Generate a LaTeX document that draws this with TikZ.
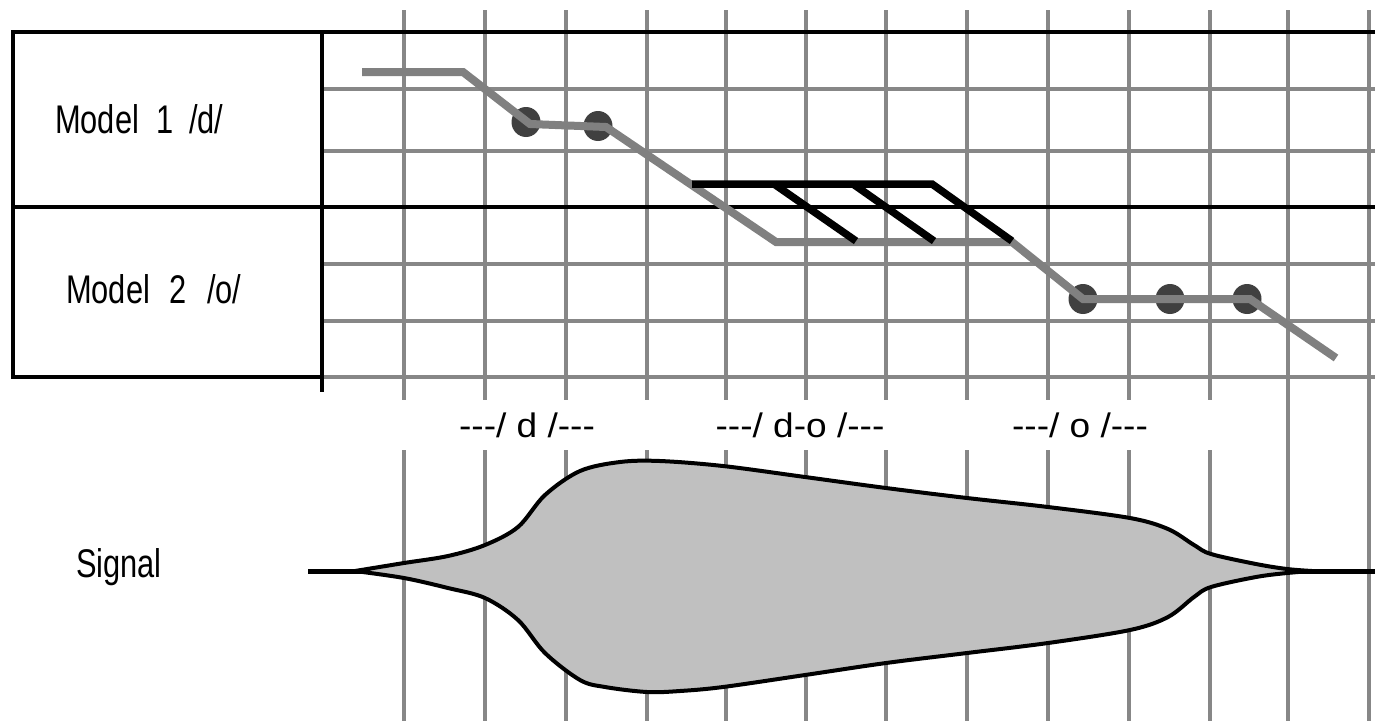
\documentclass[tikz,border=0pt]{standalone}
\usepackage{fontspec}
\usetikzlibrary{shapes.geometric}
\setmainfont{Liberation Sans}
\newfontfamily\modelfont[FakeStretch=0.77]{Liberation Sans}
\newfontfamily\labelfont[FakeStretch=1.09]{Liberation Sans}
\definecolor{gridgray}{HTML}{878787}
\definecolor{trajgray}{HTML}{808080}
\definecolor{dotgray}{HTML}{404040}
\definecolor{sigfill}{HTML}{C0C0C0}
\begin{document}
\begin{tikzpicture}[x=1pt,y=-1pt,
  gridv/.style={draw=gridgray, line width=4.2pt},
  gridh/.style={draw=gridgray, line width=3.6pt},
  frameline/.style={draw=black, line width=4.8pt},
  traj/.style={draw=trajgray, line width=8pt},
  hyp/.style={draw=black, line width=7.5pt},
  dotmark/.style={ellipse, fill=dotgray, minimum width=29pt, minimum height=30pt, inner sep=0pt},
  modellabel/.style={font=\modelfont\fontsize{40}{40}\selectfont, inner sep=0pt, anchor=base west},
  seglabel/.style={font=\labelfont\fontsize{34}{34}\selectfont, inner sep=0pt, anchor=base},
  signal/.style={draw=black, fill=sigfill, line width=4pt, line join=round},
  tail/.style={draw=black, line width=5pt}
]
\useasboundingbox (0,0) rectangle (1375,721);

% vertical grid lines
\foreach \x in {404,485,566,647,726,806,886,967,1048,1129,1210}{
  \draw[gridv] (\x,10) -- (\x,400);
  \draw[gridv] (\x,450) -- (\x,721);
}
\foreach \x in {1288,1369}{
  \draw[gridv] (\x,10) -- (\x,721);
}
% horizontal grid lines
\foreach \y in {89,151,264,321,377}{
  \draw[gridh] (322,\y) -- (1375,\y);
}
% frame
\draw[frameline] (1375,32) -- (13,32) -- (13,377) -- (322,377);
\draw[frameline] (13,207) -- (1375,207);
\draw[frameline] (322,32) -- (322,392);

% labels
\node[modellabel] (m1) at (55,133) {Model\hspace{17pt}1\hspace{16pt}/d/};
\node[modellabel] (m2) at (66,303) {Model\hspace{19pt}2\hspace{21pt}/o/};
\node[modellabel] (sig) at (76,577) {Signal};
\node[seglabel] (ld) at (527,437) {---/ d /---};
\node[seglabel] (ldo) at (800,437) {---/ d-o /---};
\node[seglabel] (lo) at (1080,437) {---/ o /---};

% dots
\node[dotmark] (d1) at (526,122) {};
\node[dotmark] (d2) at (598,126) {};
\node[dotmark] (d3) at (1083,299) {};
\node[dotmark] (d4) at (1170,299) {};
\node[dotmark] (d5) at (1247,299) {};

% trajectory
\coordinate (p0) at (362,72);
\coordinate (p1) at (463,72);
\coordinate (p2) at (530,124);
\coordinate (p3) at (606,127);
\coordinate (p4) at (776,242);
\coordinate (p5) at (1012,242);
\coordinate (p6) at (1083,299);
\coordinate (p7) at (1250,299);
\coordinate (p8) at (1336,358);
\draw[traj] (p0) -- (p1) -- (p2) -- (p3) -- (p4) -- (p5) -- (p6) -- (p7) -- (p8);

% black hypothesis lines
\coordinate (h0) at (692,184);
\coordinate (h1) at (932,184);
\coordinate (h2) at (1012,241);
\coordinate (a1) at (774,184);
\coordinate (a2) at (856,241);
\coordinate (b1) at (853,184);
\coordinate (b2) at (934,241);
\draw[hyp] (h0) -- (h1) -- (h2);
\draw[hyp] (a1) -- (a2);
\draw[hyp] (b1) -- (b2);

% signal
\coordinate (sl) at (308,571);
\coordinate (sr) at (1375,571);
\draw[tail] (sl) -- (375,571);
\draw[tail] (1295,571) -- (sr);
\draw[signal] plot[smooth, tension=0.55] coordinates {(355,571) (404,563) (448,556) (485,545) (518,527) (545,495) (580,471) (620,462) (660,461) (723,466) (805,477) (886,488) (967,498) (1048,507) (1130,518) (1168,529) (1194,545) (1211,554) (1256,564) (1287,569) (1312,571)}
 -- plot[smooth, tension=0.55] coordinates {(1312,571) (1287,573) (1256,577) (1211,587) (1194,597) (1168,617) (1130,630) (1048,643) (967,653) (886,663) (805,675) (723,687) (680,691) (647,692) (605,687) (580,680) (545,653) (518,620) (485,598) (448,588) (404,578) (355,571)} -- cycle;
\end{tikzpicture}
\end{document}
